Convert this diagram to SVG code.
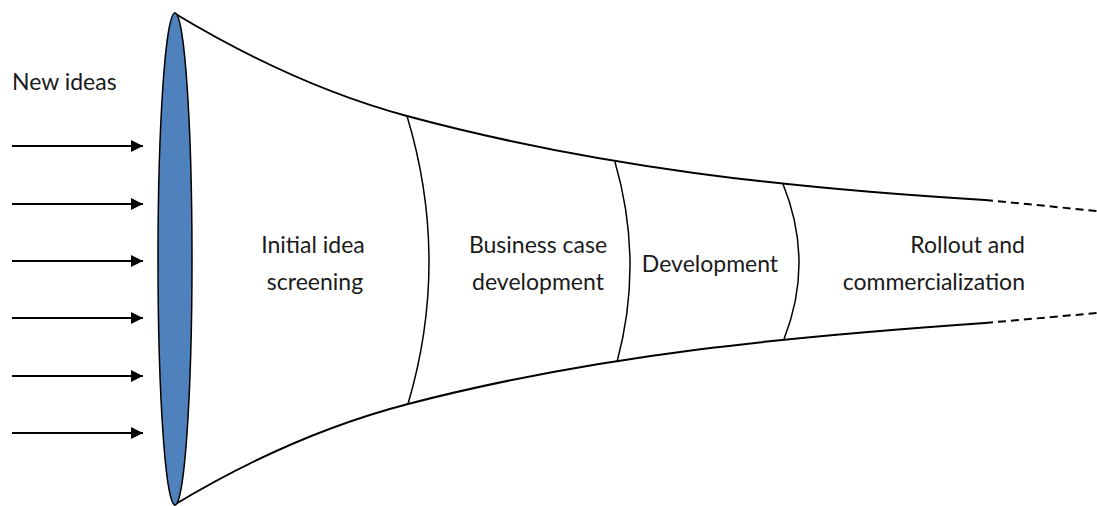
<svg xmlns="http://www.w3.org/2000/svg" width="1097" height="506" viewBox="0 0 1097 506">
<style>
  .lbl { font-family: Lato, "Open Sans", "Liberation Sans", sans-serif; font-size: 23px; fill: #1a1a1a; }
  .edge { fill: none; stroke: #000; stroke-width: 2; }
  .div { fill: none; stroke: #000; stroke-width: 1.5; }
  .dash { fill: none; stroke: #000; stroke-width: 2; stroke-dasharray: 8 5; }
  .arr { stroke: #000; stroke-width: 2; marker-end: url(#head); }
</style>
<defs>
  <marker id="head" viewBox="0 0 12 12" refX="12" refY="6" markerWidth="12" markerHeight="12" markerUnits="userSpaceOnUse" orient="auto">
    <path d="M0,0 L12,6 L0,12 Z" fill="#000"/>
  </marker>
</defs>
<rect width="1097" height="506" fill="#fff"/>
<g id="funnel">
  <path class="edge" d="M174,13 C252,60 329,95 407,116 C600,168 792,188.4 985,200"/>
  <path class="edge" d="M174,505 C252,458 330,424.3 408,404 C601,353.8 792,336.5 985,323"/>
  <path class="dash" d="M985,200 L1097,211"/>
  <path class="dash" d="M985,323 L1097,313"/>
</g>
<g id="mouth">
  <ellipse cx="175" cy="259" rx="17" ry="246" fill="#4F81BD" stroke="#000" stroke-width="1.5"/>
</g>
<g id="dividers">
  <path class="div" d="M407,116 Q450.5,260 408,404"/>
  <path class="div" d="M615,162 Q644,262 617,362"/>
  <path class="div" d="M783,184 Q814.5,262 784,339"/>
</g>
<g id="connectors">
  <line class="arr" x1="12" y1="146" x2="143" y2="146"/>
  <line class="arr" x1="12" y1="204" x2="143" y2="204"/>
  <line class="arr" x1="12" y1="261" x2="143" y2="261"/>
  <line class="arr" x1="12" y1="318" x2="143" y2="318"/>
  <line class="arr" x1="12" y1="376" x2="143" y2="376"/>
  <line class="arr" x1="12" y1="433" x2="143" y2="433"/>
</g>
<g id="new-ideas">
  <text class="lbl" x="12" y="90">New ideas</text>
</g>
<g id="stage-screening">
  <text class="lbl" x="313" y="253" text-anchor="middle">Initial idea</text>
  <text class="lbl" x="315" y="290" text-anchor="middle">screening</text>
</g>
<g id="stage-business">
  <text class="lbl" x="538" y="253" text-anchor="middle">Business case</text>
  <text class="lbl" x="538" y="290" text-anchor="middle">development</text>
</g>
<g id="stage-development">
  <text class="lbl" x="710" y="272" text-anchor="middle">Development</text>
</g>
<g id="stage-rollout">
  <text class="lbl" x="1025" y="253" text-anchor="end">Rollout and</text>
  <text class="lbl" x="1025" y="290" text-anchor="end">commercialization</text>
</g>
</svg>
